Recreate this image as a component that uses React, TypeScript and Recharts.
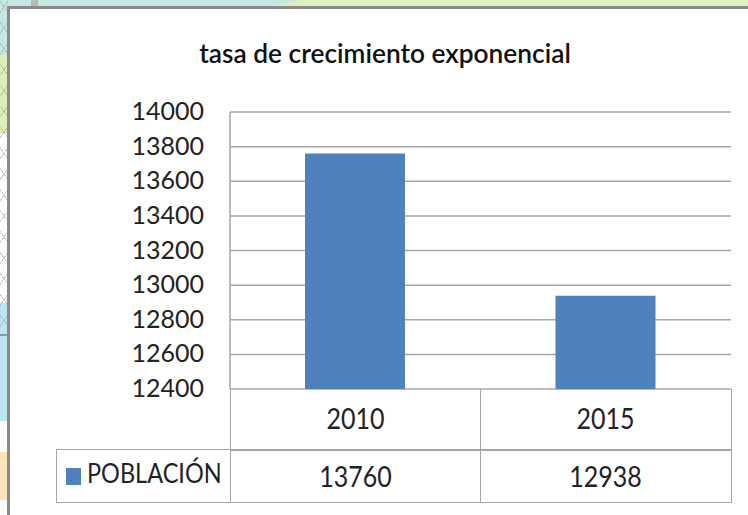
import { BarChart, Bar, CartesianGrid, XAxis, YAxis } from "recharts";

const categories = ["2010", "2015"];
const poblacion = [13760, 12938];
const yTicks = [12400, 12600, 12800, 13000, 13200, 13400, 13600, 13800, 14000];
const seriesName = "POBLACIÓN";
const title = "tasa de crecimiento exponencial";

const chartData = categories.map((year, i) => ({ year, value: poblacion[i] }));

const FONT = "Lato, sans-serif";
const LINE = "#a6a6a6";
const BLUE = "#4f81bd";
const INK = "#222";

// table below the plot, drawn over the chart
const cell = (left: number, top: number, width: number, height: number, borders: string) => ({
  position: "absolute" as const,
  left,
  top,
  width,
  height,
  boxSizing: "border-box" as const,
  borderStyle: "solid",
  borderColor: LINE,
  borderWidth: borders,
  display: "flex",
  alignItems: "center",
  justifyContent: "center",
  fontFamily: FONT,
  fontSize: 25,
  fontWeight: 400,
  color: INK,
});

const Tall = ({ children, dy = 0 }: { children: React.ReactNode; dy?: number }) => (
  <span style={{ display: "inline-block", transform: `translateY(${dy}px) scaleY(1.12)` }}>{children}</span>
);

const YTick = ({ x, y, payload }: any) => (
  <g transform={`translate(${x},${y - 1}) scale(1,1.03)`}>
    <text x={0} y={0} dy={8.8} textAnchor="end" fontFamily={FONT} fontSize={25} fill={INK}>
      {payload.value}
    </text>
  </g>
);

const patch = (left: number, top: number, width: number, height: number, background: string) => (
  <div style={{ position: "absolute", left, top, width, height, background }} />
);

export default function App() {
  return (
    <div style={{ position: "fixed", left: 0, top: 0, width: 748, height: 515, overflow: "hidden", background: "#fff" }}>
      {patch(0, 0, 748, 7, "#c5e8e3")}
      <div style={{ position: "absolute", left: 270, top: 0, width: 478, height: 7, background: "#e0f1bb", clipPath: "polygon(30px 0, 100% 0, 100% 100%, 0 100%)" }} />
      {patch(0, 0, 8, 55, "#c5e8e3")}
      {patch(0, 55, 8, 78, "#dfeeb8")}
      {patch(0, 303, 8, 118, "#bde6f5")}
      {patch(0, 452, 8, 48, "#fde3b8")}
      {patch(0, 334, 8, 2, "#8c9a9e")}
      {patch(31, 0, 7, 6, "#b9b9b9")}
      <div
        style={{
          position: "absolute",
          left: 0,
          top: 0,
          width: 8,
          height: 335,
          backgroundImage:
            "repeating-linear-gradient(55deg, transparent 0 11px, rgba(150,150,150,0.45) 11px 12px), repeating-linear-gradient(-55deg, transparent 0 11px, rgba(150,150,150,0.45) 11px 12px)",
        }}
      />
      <div style={{ position: "absolute", left: 7, top: 6, width: 741, height: 509, boxSizing: "border-box", background: "#fff", borderLeft: "3px solid #8a8a8a", borderTop: "3px solid #8a8a8a" }} />

      <div style={{ position: "absolute", left: 0, top: 0 }}>
        <BarChart
          width={748}
          height={515}
          data={chartData}
          margin={{ top: 112, right: 17, bottom: 126, left: 0 }}
        >
          <CartesianGrid vertical={false} stroke={LINE} strokeWidth={1.5} />
          <XAxis dataKey="year" tick={false} tickLine={false} axisLine={{ stroke: LINE, strokeWidth: 1.5 }} height={0} />
          <YAxis
            domain={[12400, 14000]}
            ticks={yTicks}
            interval={0}
            width={230}
            tickLine={false}
            axisLine={{ stroke: LINE, strokeWidth: 1.5 }}
            tickMargin={20}
            tick={<YTick />}
          />
          <Bar dataKey="value" name={seriesName} fill={BLUE} barSize={100} isAnimationActive={false} />
          <text x={385} y={63} textAnchor="middle" fontFamily={FONT} fontWeight={600} fontSize={26.3} fill="#111">
            {title}
          </text>
        </BarChart>
      </div>

      <div style={cell(230, 389, 251, 62, "0 1.5px 1.5px 1.5px")}><Tall dy={-2}>{categories[0]}</Tall></div>
      <div style={cell(480, 389, 252, 62, "0 1.5px 1.5px 0")}><Tall dy={-2}>{categories[1]}</Tall></div>
      <div style={{ ...cell(56, 449, 175, 54, "1.5px"), justifyContent: "flex-start", paddingLeft: 9, gap: 6, fontSize: 23.5 }}>
        <span style={{ width: 15, height: 17, background: BLUE, display: "inline-block" }} />
        <Tall dy={-3}>{seriesName}</Tall>
      </div>
      <div style={cell(230, 449, 251, 54, "1.5px")}><Tall>{poblacion[0]}</Tall></div>
      <div style={cell(480, 449, 252, 54, "1.5px 1.5px 1.5px 0")}><Tall>{poblacion[1]}</Tall></div>
    </div>
  );
}
